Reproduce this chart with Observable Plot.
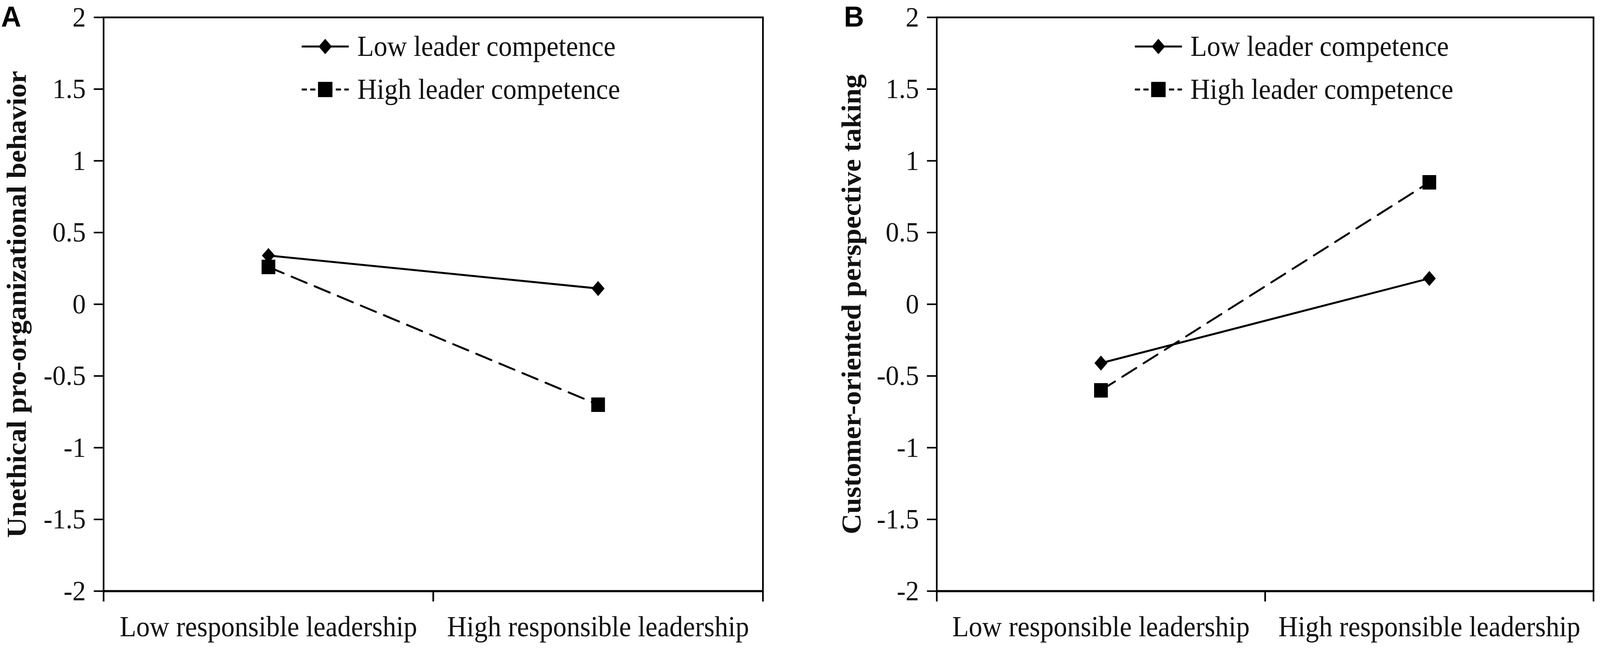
<!DOCTYPE html>
<html><head><meta charset="utf-8">
<script src="https://cdn.jsdelivr.net/npm/d3@7"></script>
<script src="https://cdn.jsdelivr.net/npm/@observablehq/plot@0.6"></script>
<style>
html,body{margin:0;padding:0;background:#fff;overflow:hidden;}
#root{position:relative;width:4317px;height:1658px;overflow:hidden;background:#fff;font-family:"Liberation Serif","Times New Roman",serif;transform-origin:0 0;}
.panel{position:absolute;top:0;}
.panel svg{overflow:visible;}
.tag{position:absolute;top:5px;font-family:"Liberation Sans",Arial,sans-serif;font-weight:bold;font-size:75px;line-height:1;color:#000;}
.legend{position:absolute;top:0;left:0;overflow:visible;pointer-events:none;}
</style></head><body><div id="root"></div>
<script>
// ---- data ----
const categories = ["Low responsible leadership", "High responsible leadership"];
const seriesNames = ["Low leader competence", "High leader competence"];
const yTicks = [-2, -1.5, -1, -0.5, 0, 0.5, 1, 1.5, 2];
const panelTags = ["A", "B"];
const panelTitles = ["Unethical pro-organizational behavior", "Customer-oriented perspective taking"];
const panelALow = [0.34, 0.11];
const panelAHigh = [0.26, -0.70];
const panelBLow = [-0.41, 0.18];
const panelBHigh = [-0.60, 0.85];

const SERIF = '"Liberation Serif","Times New Roman",serif';

const diamondSym = {draw(ctx, size) {
  const r = Math.sqrt(size / Math.PI);
  ctx.moveTo(0, -r * 1.1); ctx.lineTo(r, 0); ctx.lineTo(0, r * 1.1); ctx.lineTo(-r, 0); ctx.closePath();
}};
const squareSym = {draw(ctx, size) {
  const r = Math.sqrt(size / Math.PI);
  ctx.rect(-r, -r, 2 * r, 2 * r);
}};

function rowsOf(vals, name) {
  return categories.map((c, i) => ({pos: i + 0.5, category: c, value: vals[i], series: name}));
}

function makePanel(o) {
  const low = rowsOf(o.low, seriesNames[0]);
  const high = rowsOf(o.high, seriesNames[1]);
  const boundaries = d3.range(categories.length + 1);
  const centers = categories.map((c, i) => i + 0.5);
  return Plot.plot({
    width: o.width, height: 1658,
    marginLeft: o.ml, marginRight: o.mr, marginTop: 44, marginBottom: 146,
    style: {fontFamily: SERIF, fontSize: "72px", color: "#000", background: "#fff", overflow: "visible"},
    x: {domain: [0, categories.length], axis: null},
    y: {domain: [-2, 2], axis: null},
    marks: [
      Plot.frame({stroke: "#000", strokeWidth: 4.5}),
      Plot.ruleY([-2], {stroke: "#000", strokeWidth: 5.5}),
      Plot.axisY({anchor: "left", ticks: yTicks, tickSize: 26, tickPadding: 22, tickFormat: d => String(d), fontSize: 72, strokeWidth: 4, label: null, fill: "#111"}),
      Plot.axisX({anchor: "bottom", ticks: boundaries, tickSize: 27, tickFormat: () => "", strokeWidth: 4.5, label: null}),
      Plot.axisX({anchor: "bottom", ticks: centers, tickSize: 0, tickPadding: 64, tickFormat: v => categories[Math.floor(v)], fontSize: 73, label: null, fill: "#111"}),
      Plot.line(low, {x: "pos", y: "value", stroke: "#000", strokeWidth: 5}),
      Plot.line(high, {x: "pos", y: "value", stroke: "#000", strokeWidth: 5, strokeDasharray: "44,23"}),
      Plot.dot(low, {x: "pos", y: "value", symbol: diamondSym, r: 17.5, fill: "#000", stroke: "none"}),
      Plot.dot(high, {x: "pos", y: "value", symbol: squareSym, r: 18.5, fill: "#000", stroke: "none"}),
      Plot.text([o.title], {frameAnchor: "left", dx: o.titleDx, rotate: -90, textAnchor: "middle", lineAnchor: "middle", fontWeight: "bold", fontSize: 73, fill: "#111"})
    ]
  });
}

function addLegend(container, o) {
  const svg = d3.select(container).append("svg").attr("class", "legend")
    .attr("width", o.width).attr("height", 400);
  const x0 = o.ml + 535, x1 = x0 + 127, xm = (x0 + x1) / 2, tx = x0 + 150;
  const rows = [119, 229];
  svg.append("line").attr("x1", x0).attr("x2", x1).attr("y1", rows[0]).attr("y2", rows[0])
    .attr("stroke", "#000").attr("stroke-width", 5);
  svg.append("path").attr("d", d3.symbol(diamondSym, Math.PI * 18 * 18)()).attr("transform", `translate(${xm},${rows[0]})`).attr("fill", "#000");
  svg.append("line").attr("x1", x0).attr("x2", x1).attr("y1", rows[1]).attr("y2", rows[1])
    .attr("stroke", "#000").attr("stroke-width", 5).attr("stroke-dasharray", "14,9");
  svg.append("path").attr("d", d3.symbol(squareSym, Math.PI * 19.5 * 19.5)()).attr("transform", `translate(${xm},${rows[1]})`).attr("fill", "#000");
  seriesNames.forEach((name, i) => {
    svg.append("text").attr("x", tx).attr("y", rows[i] + 24).attr("font-family", SERIF)
      .attr("font-size", 73).attr("fill", "#111").text(name);
  });
}

const root = document.getElementById("root");
const panels = [
  {left: 0, width: 2160, ml: 279, mr: 102, titleDx: -233, low: panelALow, high: panelAHigh, title: panelTitles[0], tag: panelTags[0], tagLeft: 3},
  {left: 2200, width: 2117, ml: 327, mr: 18, titleDx: -229, low: panelBLow, high: panelBHigh, title: panelTitles[1], tag: panelTags[1], tagLeft: 2277}
];
panels.forEach(o => {
  const div = document.createElement("div");
  div.className = "panel";
  div.style.left = o.left + "px";
  div.style.width = o.width + "px";
  div.style.height = "1658px";
  div.appendChild(makePanel(o));
  addLegend(div, o);
  root.appendChild(div);
  const tag = document.createElement("div");
  tag.className = "tag";
  tag.style.left = o.tagLeft + "px";
  tag.textContent = o.tag;
  root.appendChild(tag);
});
// fit the 4317-wide design into the actual viewport width
const sx = Math.min(1, window.innerWidth / 4317);
const sy = Math.min(1, window.innerHeight / 1658);
root.style.transform = `scale(${sx}, ${sy})`;
</script></body></html>
